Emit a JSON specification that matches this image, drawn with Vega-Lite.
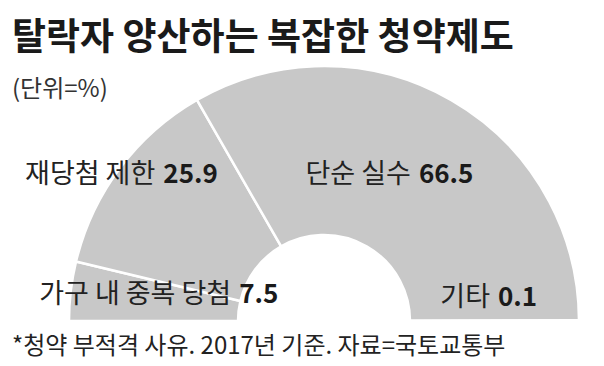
{
  "$schema": "https://vega.github.io/schema/vega-lite/v6.json",
  "width": 604,
  "height": 256,
  "autosize": {"type": "none"},
  "padding": {"left": 0, "top": 110, "right": 0, "bottom": 0},
  "background": "white",
  "config": {"view": {"stroke": null}, "font": "Noto Sans CJK KR"},
  "title": {
    "text": "탈락자 양산하는 복잡한 청약제도",
    "subtitle": "(단위=%)",
    "anchor": "start",
    "frame": "group",
    "dx": 12,
    "offset": -42,
    "font": "Noto Sans CJK KR",
    "fontSize": 37,
    "fontWeight": "bold",
    "color": "#1a1a1a",
    "subtitleFont": "Noto Sans CJK KR",
    "subtitleFontSize": 24,
    "subtitleColor": "#333333",
    "subtitlePadding": 20
  },
  "datasets": {
    "main": [
      {"category": "가구 내 중복 당첨", "value": 7.5, "ord": 1},
      {"category": "재당첨 제한", "value": 25.9, "ord": 2},
      {"category": "단순 실수", "value": 66.5, "ord": 3},
      {"category": "기타", "value": 0.1, "ord": 4}
    ]
  },
  "layer": [
    {
      "data": {"name": "main"},
      "mark": {"type": "arc", "x": 324, "y": 211, "outerRadius": 255, "innerRadius": 86, "fill": "#c8c8c8", "stroke": "white", "strokeWidth": 2.5},
      "encoding": {
        "theta": {"field": "value", "type": "quantitative", "stack": true, "scale": {"range": [-1.5707963, 1.5707963]}},
        "order": {"field": "ord", "type": "quantitative"}
      }
    },
    {
      "data": {"name": "main"},
      "mark": {
        "type": "text", "x": 324, "y": 211, "radius": 172, "align": "right", "baseline": "middle",
        "fontSize": 27, "color": "#222222",
        "dx": {"expr": "(datum.category == '가구 내 중복 당첨' ? 82 : datum.category == '재당첨 제한' ? -27 : datum.category == '단순 실수' ? 5 : -2) - 4"},
        "dy": {"expr": "datum.category == '가구 내 중복 당첨' ? -6 : datum.category == '재당첨 제한' ? -43 : datum.category == '단순 실수' ? 3 : -23"}
      },
      "encoding": {
        "theta": {"field": "value", "type": "quantitative", "stack": true},
        "order": {"field": "ord", "type": "quantitative"},
        "text": {"field": "category"}
      }
    },
    {
      "data": {"name": "main"},
      "mark": {
        "type": "text", "x": 324, "y": 211, "radius": 172, "align": "left", "baseline": "middle",
        "fontSize": 26, "fontWeight": "bold", "color": "#1a1a1a",
        "dx": {"expr": "(datum.category == '가구 내 중복 당첨' ? 82 : datum.category == '재당첨 제한' ? -27 : datum.category == '단순 실수' ? 5 : -2) + 4"},
        "dy": {"expr": "datum.category == '가구 내 중복 당첨' ? -6 : datum.category == '재당첨 제한' ? -43 : datum.category == '단순 실수' ? 3 : -23"}
      },
      "encoding": {
        "theta": {"field": "value", "type": "quantitative", "stack": true},
        "order": {"field": "ord", "type": "quantitative"},
        "text": {"field": "value", "format": ".1f"}
      }
    },
    {
      "data": {"values": [{"note": "*청약 부적격 사유. 2017년 기준. 자료=국토교통부"}]},
      "mark": {"type": "text", "x": 12, "y": 237, "align": "left", "baseline": "middle", "fontSize": 24, "color": "#222222"},
      "encoding": {"text": {"field": "note"}}
    }
  ]
}
